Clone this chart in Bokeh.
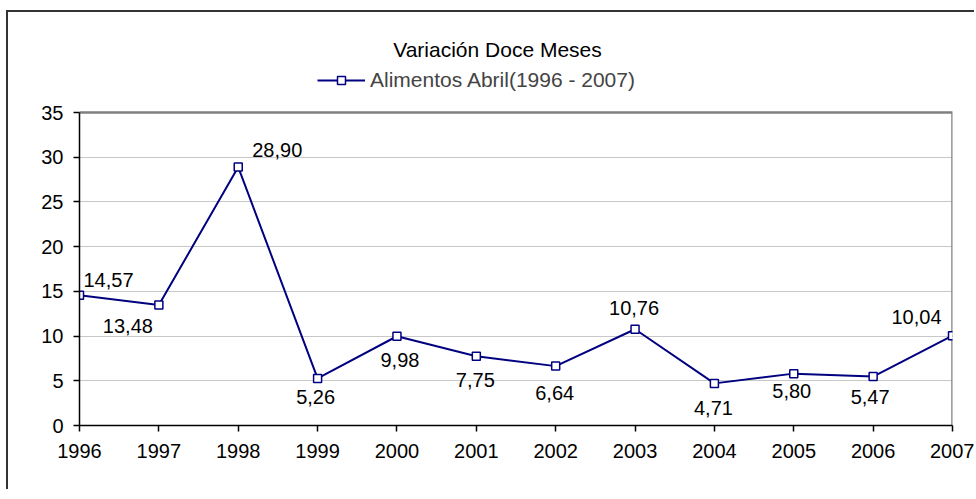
from bokeh.plotting import figure
from bokeh.models import Range1d, FixedTicker, Legend, LegendItem, Label
from bokeh.embed import file_html
from bokeh.resources import INLINE
from bokeh.core.properties import value

# ---- data ----
years = [1996, 1997, 1998, 1999, 2000, 2001, 2002, 2003, 2004, 2005, 2006, 2007]
values = [14.57, 13.48, 28.90, 5.26, 9.98, 7.75, 6.64, 10.76, 4.71, 5.80, 5.47, 10.04]
y_ticks = [0, 5, 10, 15, 20, 25, 30, 35]
title_text = "Variación Doce Meses"
series_name = "Alimentos Abril(1996 - 2007)"

# data-label placement (screen px offsets from each point)
label_dx = [29, -31, 39, -2, 3, -1, -1, -1, -1, -2, -3, -36]
label_dy = [-15, 21, -17, 19, 24, 24, 27, -21, 25, 17, 20, -19]

FONT = "Liberation Sans"
NAVY = "#000080"

labels = [f"{v:.2f}".replace(".", ",") for v in values]

# plot area: value axis occupies 313 px of a 413 px tall frame; the space above
# holds the title and the legend
FRAME_H = 413
PLOT_H = 313
y_top = y_ticks[-1] * FRAME_H / PLOT_H

p = figure(width=968, height=479, output_backend="svg", toolbar_location=None,
           title=None,
           x_range=Range1d(years[0], years[-1]), y_range=Range1d(y_ticks[0], y_top),
           min_border_left=71, min_border_right=24, min_border_top=0,
           min_border_bottom=66)
p.styles = {"border-left": "2px solid #333333", "border-top": "2px solid #333333",
            "margin-left": "6px", "margin-top": "10px"}

p.background_fill_color = "white"
p.border_fill_color = "white"
p.outline_line_color = None

p.xgrid.visible = False
p.ygrid.grid_line_color = "#c8c8c8"
p.ygrid.grid_line_width = 1
p.ygrid.ticker = FixedTicker(ticks=y_ticks)

p.xaxis.ticker = FixedTicker(ticks=years)
p.yaxis.ticker = FixedTicker(ticks=y_ticks)
p.yaxis.bounds = (y_ticks[0], y_ticks[-1])
for ax in (p.xaxis[0], p.yaxis[0]):
    ax.axis_line_color = "black"
    ax.axis_line_width = 1.5
    ax.major_tick_line_color = "black"
    ax.major_tick_line_width = 1.5
    ax.major_tick_out = 6
    ax.major_tick_in = 0
    ax.minor_tick_line_color = None
    ax.major_label_text_font = FONT
    ax.major_label_text_font_size = "20px"
    ax.major_label_text_color = "black"
p.xaxis.major_label_standoff = 12
p.yaxis.major_label_standoff = 10

# top and right edges of the plot area
p.line([years[0], years[-1], years[-1]], [y_ticks[-1], y_ticks[-1], y_ticks[0]],
       line_color="#808080", line_width=2.5)

line_r = p.line(years, values, line_color=NAVY, line_width=2)
sc_r = p.scatter(years, values, marker="square", size=8, fill_color="white",
                 line_color=NAVY, line_width=1.5)

p.text(x=years, y=values, text=labels, x_offset=label_dx, y_offset=label_dy,
       text_align="center", text_baseline="middle", text_font=value(FONT),
       text_font_size="20px", text_color="black")

p.add_layout(Label(x=418, y=376, x_units="screen", y_units="screen", text=title_text,
                   text_align="center", text_baseline="alphabetic",
                   text_font=FONT, text_font_size="21px", text_color="black"))

legend = Legend(items=[LegendItem(label=series_name, renderers=[line_r, sc_r])],
                location=(238, 333), orientation="horizontal",
                glyph_width=48, glyph_height=20, label_standoff=5,
                padding=0, margin=0, border_line_alpha=0, background_fill_alpha=0,
                label_text_font=FONT, label_text_font_size="21px", label_height=21)
p.add_layout(legend)

with open("out.html", "w", encoding="utf-8") as f:
    f.write(file_html(p, INLINE))
